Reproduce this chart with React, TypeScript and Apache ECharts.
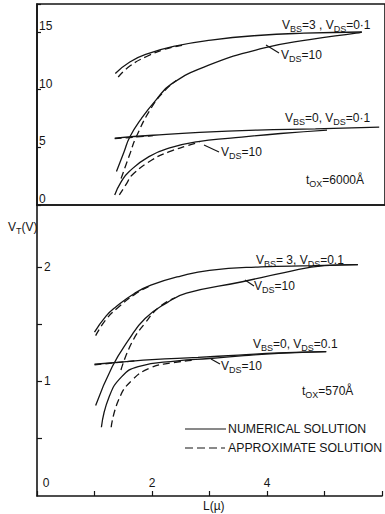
import React, { useEffect, useRef } from "react";
import * as echarts from "echarts";

// ---- Top panel (t_ox = 6000 Å) : [L (µ), V_T (V)]
const top_bs3_ds01_num = [[1.35, 11.4], [1.6, 12.4], [1.9, 13.1], [2.4, 13.8], [3.0, 14.3], [3.8, 14.7], [4.6, 14.9], [5.6, 15.0]];
const top_bs3_ds01_apx = [[1.4, 11.1], [1.6, 12.05], [1.9, 12.9], [2.2, 13.5], [2.5, 13.85]];
const top_bs3_ds10_num = [[1.37, 2.9], [1.5, 4.6], [1.6, 5.9], [1.8, 7.5], [2.05, 9.1], [2.32, 10.5], [2.95, 12.1], [3.9, 13.6], [4.7, 14.35], [5.5, 14.9], [5.6, 15.0]];
const top_bs3_ds10_apx = [[1.45, 2.3], [1.6, 4.4], [1.71, 5.9], [1.98, 8.5], [2.2, 9.9], [2.4, 10.8]];
const top_bs0_ds01_num = [[1.34, 5.8], [2.0, 6.05], [2.8, 6.3], [3.8, 6.5], [4.8, 6.6], [5.9, 6.75]];
const top_bs0_ds01_apx = [[1.34, 5.75], [1.6, 5.85], [2.0, 6.02]];
const top_bs0_ds10_num = [[1.34, 0.87], [1.45, 2.0], [1.59, 2.9], [1.93, 4.2], [2.32, 5.0], [2.78, 5.5], [3.34, 5.8], [4.2, 6.2], [5.0, 6.5]];
const top_bs0_ds10_apx = [[1.42, 0.87], [1.55, 1.9], [1.64, 2.6], [1.98, 3.9], [2.27, 4.6], [2.6, 5.15], [2.8, 5.45]];

// ---- Bottom panel (t_ox = 570 Å)
const bot_bs3_ds01_num = [[1.0, 1.43], [1.2, 1.57], [1.37, 1.65], [1.7, 1.77], [1.98, 1.84], [2.5, 1.92], [3.0, 1.97], [3.9, 2.0], [4.8, 2.01], [5.58, 2.02]];
const bot_bs3_ds01_apx = [[1.02, 1.4], [1.2, 1.54], [1.4, 1.64], [1.7, 1.76], [1.95, 1.83]];
const bot_bs3_ds10_num = [[1.02, 0.79], [1.31, 1.13], [1.59, 1.36], [1.88, 1.55], [2.27, 1.69], [2.6, 1.77], [3.57, 1.87], [4.3, 1.95], [5.0, 2.01], [5.58, 2.02]];
const bot_bs3_ds10_apx = [[1.46, 1.1], [1.65, 1.34], [1.88, 1.51], [2.13, 1.65], [2.4, 1.73]];
const bot_bs0_ds01_num = [[1.0, 1.15], [1.5, 1.17], [2.0, 1.19], [2.8, 1.21], [3.5, 1.23], [4.2, 1.25], [5.03, 1.26]];
const bot_bs0_ds01_apx = [[1.0, 1.145], [1.3, 1.16], [1.7, 1.18]];
const bot_bs0_ds10_num = [[1.12, 0.6], [1.25, 0.86], [1.47, 1.04], [1.76, 1.13], [2.44, 1.18], [3.0, 1.2], [3.6, 1.225], [4.2, 1.245], [5.03, 1.26]];
const bot_bs0_ds10_apx = [[1.29, 0.6], [1.42, 0.84], [1.65, 1.01], [1.98, 1.12], [2.32, 1.16], [2.7, 1.185]];

// ---- Tick labels
const topYLabels = [0, 5, 10, 15];
const botYLabels = [1, 2];
const botXLabels = [0, 2, 4];

const INK = "#151515";
const FONT = "Liberation Sans";

function curve(data: number[][], dashed: boolean, gi: number) {
  return {
    type: "line",
    xAxisIndex: gi,
    yAxisIndex: gi,
    data,
    showSymbol: false,
    symbol: "none",
    smooth: 0.5,
    silent: true,
    lineStyle: { color: INK, width: 1.3, type: dashed ? [7, 4] : "solid" },
    z: dashed ? 3 : 2,
  };
}

const sub = { fontSize: 9, fontFamily: FONT, padding: [7, 0, 0, 0], fill: INK };

function label(x: number, y: number, text: string, fontSize = 12) {
  return {
    type: "text",
    x,
    y,
    z: 20,
    style: {
      text,
      fill: INK,
      fontSize,
      fontFamily: FONT,
      verticalAlign: "middle",
      align: "left",
      rich: { s: sub },
    },
  };
}

function seg(x1: number, y1: number, x2: number, y2: number, dash?: number[]) {
  return {
    type: "line",
    z: 20,
    shape: { x1, y1, x2, y2 },
    style: { stroke: INK, lineWidth: 1.2, lineDash: dash },
  };
}

export default function App() {
  const ref = useRef<HTMLDivElement>(null);
  useEffect(() => {
    if (!ref.current) return;
    const chart = echarts.init(ref.current, null, { renderer: "svg" });
    const axisLine = { show: true, lineStyle: { color: INK, width: 1.6 } };
    chart.setOption({
      animation: false,
      backgroundColor: "#fff",
      grid: [
        { left: 37, right: -6, top: 4, height: 201, show: true, borderColor: INK, borderWidth: 1.6, backgroundColor: "transparent" },
        { left: 37, right: -6, top: 205, height: 291 },
      ],
      xAxis: [
        { gridIndex: 0, type: "value", min: 0, max: 6, interval: 1, axisLine, axisTick: { show: false }, axisLabel: { show: false }, splitLine: { show: false } },
        {
          gridIndex: 1, type: "value", min: 0, max: 6, interval: 1, axisLine,
          axisTick: { show: true, inside: true, length: 5, lineStyle: { color: INK, width: 1.2 } },
          axisLabel: {
            inside: true, margin: 7, color: INK, fontSize: 12, fontFamily: FONT,
            formatter: (v: number) => (botXLabels.includes(v) ? (v === 0 ? "{z|0}" : String(v)) : ""),
            rich: { z: { fontSize: 12, fontFamily: FONT, color: INK, padding: [0, 0, 0, 18] } },
          },
          splitLine: { show: false },
        },
      ],
      yAxis: [
        {
          gridIndex: 0, type: "value", min: 0, max: 17.43, interval: 5, axisLine,
          axisTick: { show: true, inside: true, length: 4, lineStyle: { color: INK, width: 1.2 } },
          axisLabel: {
            inside: true, margin: 2, color: INK, fontSize: 12, fontFamily: FONT, verticalAlign: "bottom",
            formatter: (v: number) => (topYLabels.includes(v) ? String(v) : ""),
          },
          splitLine: { show: false },
        },
        {
          gridIndex: 1, type: "value", min: 0, max: 2.54, interval: 0.5, axisLine,
          axisTick: { show: true, inside: true, length: 5, customValues: [0.5, 1, 1.5, 2], lineStyle: { color: INK, width: 1.2 } },
          axisLabel: {
            inside: true, margin: 7, color: INK, fontSize: 12, fontFamily: FONT,
            customValues: botYLabels,
            formatter: (v: number) => (botYLabels.includes(v) ? String(v) : ""),
          },
          splitLine: { show: false },
        },
      ],
      series: [
        curve(top_bs3_ds01_num, false, 0),
        curve(top_bs3_ds01_apx, true, 0),
        curve(top_bs3_ds10_num, false, 0),
        curve(top_bs3_ds10_apx, true, 0),
        curve(top_bs0_ds01_num, false, 0),
        curve(top_bs0_ds01_apx, true, 0),
        curve(top_bs0_ds10_num, false, 0),
        curve(top_bs0_ds10_apx, true, 0),
        curve(bot_bs3_ds01_num, false, 1),
        curve(bot_bs3_ds01_apx, true, 1),
        curve(bot_bs3_ds10_num, false, 1),
        curve(bot_bs3_ds10_apx, true, 1),
        curve(bot_bs0_ds01_num, false, 1),
        curve(bot_bs0_ds01_apx, true, 1),
        curve(bot_bs0_ds10_num, false, 1),
        curve(bot_bs0_ds10_apx, true, 1),
      ],
      graphic: [
        // top panel annotations
        label(282, 25, "V{s|BS}=3 , V{s|DS}=0·1"),
        label(281, 55, "V{s|DS}=10"),
        seg(266, 45, 279, 53),
        label(285, 118, "V{s|BS}=0, V{s|DS}=0·1"),
        label(221, 152, "V{s|DS}=10"),
        seg(204, 145, 219, 152),
        label(306, 180, "t{s|OX}=6000Å"),
        // bottom panel annotations
        label(256, 260, "V{s|BS}= 3, V{s|DS}=0.1"),
        label(254, 286, "V{s|DS}=10"),
        seg(245, 280, 254, 286),
        label(253, 344, "V{s|BS}=0, V{s|DS}=0.1"),
        label(221, 366, "V{s|DS}=10"),
        seg(211, 359, 220, 364),
        label(302, 391, "t{s|OX}=570Å"),
        // legend
        seg(185, 429, 226, 429),
        label(228, 429, "NUMERICAL SOLUTION", 12.3),
        seg(185, 448, 225, 448, [8, 4]),
        label(228, 448, "APPROXIMATE SOLUTION", 12.3),
        // axis titles
        label(8, 227, "V{s|T}(V)"),
        label(203, 506, "L(µ)"),
      ],
    });
    return () => chart.dispose();
  }, []);
  return (
    <div
      ref={ref}
      style={{ position: "absolute", left: 0, top: 0, width: 385, height: 514, background: "#fff", overflow: "hidden" }}
    />
  );
}
